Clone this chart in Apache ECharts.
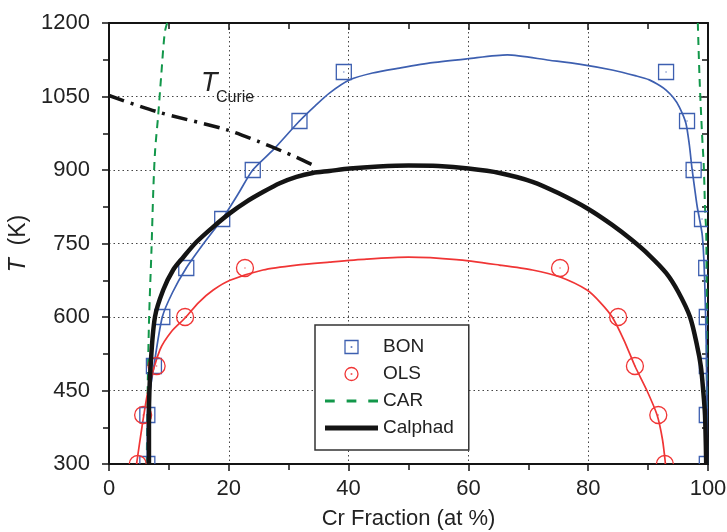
<!DOCTYPE html>
<html><head><meta charset="utf-8">
<script src="https://cdn.jsdelivr.net/npm/echarts@6/dist/echarts.min.js"></script>
<style>html,body{margin:0;padding:0;background:#fff}#c{width:727px;height:532px}</style>
</head><body><div id="c"></div>
<script>
// ---- data ----
const xTicks = [0, 20, 40, 60, 80, 100];
const yTicks = [300, 450, 600, 750, 900, 1050, 1200];
const bonPoints = [[6.4,300],[6.4,400],[7.5,500],[8.9,600],[12.9,700],[18.9,800],[24,900],[31.8,1000],[39.2,1100],
  [93,1100],[96.5,1000],[97.6,900],[99,800],[99.7,700],[99.8,600],[99.8,500],[99.8,400],[99.8,300]];
const olsPoints = [[4.8,300],[5.7,400],[7.95,500],[12.7,600],[22.7,700],[75.3,700],[85,600],[87.8,500],[91.7,400],[92.8,300]];
const bonFit = [[6.4,300],[6.4,400],[7.5,500],[8.9,600],[10.6,650],[12.9,700],[15.8,750],[18.9,800],[21.5,850],[24,900],
  [27.4,941],[31.8,1000],[34.5,1032],[36.8,1057],[40.2,1084],[44,1098],[48.5,1108],[54,1119],[59.8,1127],[66.5,1135],
  [73.5,1124],[78.5,1116],[84,1104],[88,1092],[90.2,1084],[92,1072],[93,1063],[94.2,1048],[95.2,1029],[96.3,996],
  [96.9,950],[97.3,906],[97.8,860],[98.2,825],[99,771],[99.3,720],[99.5,650],[99.7,550],[99.8,450],[99.9,300]];
const olsFit = [[4.6,300],[5.5,375],[6.55,451],[8.5,533],[10.4,570],[12.7,598],[15,630],[17.4,655],[20.2,675],[25.7,696],
  [31.3,706],[36.8,712],[43,718],[50,722],[58,717],[65.2,706],[70.7,696],[75.2,682],[79.8,655],[82,630],[84,600],
  [86,552],[87.8,500],[89.8,450],[91.5,400],[92.4,350],[92.9,300]];
const carLeft = [[6.3,300],[6.45,450],[6.7,600],[7.1,740],[7.4,860],[7.7,940],[8.2,1010],[8.7,1090],[9.3,1180],[9.7,1200]];
const carRight = [[98.3,1200],[98.6,1084],[99,975],[99.3,906],[99.5,824],[99.7,771],[99.75,700],[99.8,500],[99.85,300]];
const calphad = [[6.67,300],[6.67,400],[6.95,500],[7.67,600],[9.05,655],[10.7,696],[12.4,722],[14.6,753],[17.4,784],
  [20.2,812],[22.9,835],[25.7,855],[28.5,873],[31.3,886],[34,894],[36.8,898],[40.2,903],[45,907],[50,909],[55,908],
  [60,903],[65.2,894],[70.7,876],[75,853],[79.8,822],[84,788],[87.3,757],[90.2,726],[93,690],[95,652],[97,600],
  [98.2,540],[98.8,500],[99.2,450],[99.5,400],[99.7,300]];
const tCurie = [[0,1052],[8,1019],[19.7,982],[25,958],[28.8,939],[31.3,926],[34.6,907]];
const legendNames = ['BON', 'OLS', 'CAR', 'Calphad'];

// ---- styles ----
const BLUE = '#3d5fb0', RED = '#f03535', GREEN = '#12974a', BLACK = '#141414', TXT = '#222';
const FONT = 'Liberation Sans';
const SQ = 'path://M0,0H14V14H0Z M6.8,6.8H7.2V7.2H6.8Z';
const CI = 'path://M0,7A7,7 0 1,1 14,7A7,7 0 1,1 0,7Z M6.8,6.8H7.2V7.2H6.8Z';
const DASH_ICON = 'path://M0,0h9v3h-9z M20,0h9v3h-9z M40,0h9v3h-9z';
const THICK_ICON = 'path://M0,0h52v5h-52z';

const axisLine = {show: true, onZero: false, lineStyle: {color: BLACK, width: 2}};
const tickStyle = {color: BLACK, width: 1.5};
const gridLine = {show: true, lineStyle: {color: '#444', width: 1, type: [1.5, 3]}};
const lbl = {fontFamily: FONT, fontSize: 22, color: TXT, formatter: v => String(v)};

function markerSeries(name, data, shape, color, size) {
  return {
    name, type: 'custom', data, clip: true, silent: true, z: 4,
    renderItem: (params, api) => {
      const p = api.coord([api.value(0), api.value(1)]);
      const h = size / 2;
      const outline = shape === 'rect'
        ? {type: 'rect', shape: {x: p[0] - h, y: p[1] - h, width: size, height: size}}
        : {type: 'circle', shape: {cx: p[0], cy: p[1], r: h}};
      outline.style = {fill: 'none', stroke: color, lineWidth: 1.3};
      return {type: 'group', children: [
        outline,
        {type: 'rect', shape: {x: p[0] - 0.6, y: p[1] - 0.6, width: 1.2, height: 1.2}, style: {fill: color}}
      ]};
    }
  };
}

const chart = echarts.init(document.getElementById('c'), null, {renderer: 'canvas'});
chart.setOption({
  animation: false,
  backgroundColor: '#fff',
  grid: {left: 109, right: 19, top: 23, bottom: 68, containLabel: false, outerBoundsMode: 'none'},
  xAxis: [
    {type: 'value', position: 'bottom', min: xTicks[0], max: xTicks[xTicks.length - 1], interval: xTicks[1] - xTicks[0],
      axisLine, axisTick: {show: true, inside: false, length: 7, lineStyle: tickStyle},
      minorTick: {show: true, splitNumber: 2, length: 6, lineStyle: tickStyle},
      axisLabel: Object.assign({margin: 14, showMinLabel: true, showMaxLabel: true}, lbl),
      splitLine: gridLine,
      name: 'Cr Fraction (at %)', nameLocation: 'middle', nameGap: 44,
      nameTextStyle: {fontFamily: FONT, fontSize: 22, color: TXT}},
    {type: 'value', position: 'top', min: xTicks[0], max: xTicks[xTicks.length - 1], interval: xTicks[1] - xTicks[0],
      axisLine, axisTick: {show: true, inside: true, length: 7, lineStyle: tickStyle},
      minorTick: {show: true, splitNumber: 2, length: 6, lineStyle: tickStyle},
      axisLabel: {show: false}, splitLine: {show: false}}
  ],
  yAxis: [
    {type: 'value', position: 'left', min: yTicks[0], max: yTicks[yTicks.length - 1], interval: yTicks[1] - yTicks[0],
      axisLine, axisTick: {show: true, inside: false, length: 7, lineStyle: tickStyle},
      minorTick: {show: true, splitNumber: 2, length: 6, lineStyle: tickStyle},
      axisLabel: Object.assign({margin: 19, showMinLabel: true, showMaxLabel: true}, lbl),
      splitLine: gridLine,
      name: '{t|T}  (K)', nameLocation: 'middle', nameGap: 75,
      nameTextStyle: {fontFamily: FONT, fontSize: 23, color: TXT,
        rich: {t: {fontFamily: FONT, fontSize: 23, fontStyle: 'italic', color: TXT}}}},
    {type: 'value', position: 'right', min: yTicks[0], max: yTicks[yTicks.length - 1], interval: yTicks[1] - yTicks[0],
      axisLine, axisTick: {show: true, inside: true, length: 7, lineStyle: tickStyle},
      minorTick: {show: true, splitNumber: 2, length: 6, lineStyle: tickStyle},
      axisLabel: {show: false}, splitLine: {show: false}}
  ],
  legend: {
    orient: 'vertical', left: 315, top: 325, padding: [12, 15, 12, 10],
    borderColor: '#333', borderWidth: 1.5, backgroundColor: '#fff',
    itemWidth: 53, itemHeight: 13, itemGap: 7, selectedMode: false, symbolKeepAspect: true,
    textStyle: {fontFamily: FONT, fontSize: 19, color: TXT, lineHeight: 20},
    data: [
      {name: legendNames[0], icon: SQ, itemStyle: {color: 'rgba(0,0,0,0)', borderColor: BLUE, borderWidth: 1.3}},
      {name: legendNames[1], icon: CI, itemStyle: {color: 'rgba(0,0,0,0)', borderColor: RED, borderWidth: 1.3}},
      {name: legendNames[2], icon: DASH_ICON, itemStyle: {color: GREEN, borderWidth: 0, borderColor: GREEN}},
      {name: legendNames[3], icon: THICK_ICON, itemStyle: {color: BLACK, borderWidth: 0, borderColor: BLACK}}
    ]
  },
  graphic: [
    {type: 'text', left: 201, top: 70, z: 50, style: {text: 'T', fill: TXT, font: 'italic 27px "Liberation Sans"'}},
    {type: 'text', left: 216, top: 90, z: 50, style: {text: 'Curie', fill: TXT, font: '16px "Liberation Sans"'}}
  ],
  series: [
    {name: 'CAR', type: 'line', data: carLeft, symbol: 'none', smooth: 0.3, silent: true, z: 2,
      lineStyle: {color: GREEN, width: 2, type: [8, 6]}},
    {name: 'CAR', type: 'line', data: carRight, symbol: 'none', smooth: 0.3, silent: true, z: 2,
      lineStyle: {color: GREEN, width: 2, type: [8, 6]}},
    {name: 'BON fit', type: 'line', data: bonFit, symbol: 'none', smooth: 0.25, silent: true, z: 3,
      lineStyle: {color: BLUE, width: 1.7}},
    {name: 'OLS fit', type: 'line', data: olsFit, symbol: 'none', smooth: 0.25, silent: true, z: 3,
      lineStyle: {color: RED, width: 1.7}},
    markerSeries(legendNames[0], bonPoints, 'rect', BLUE, 15),
    markerSeries(legendNames[1], olsPoints, 'circle', RED, 17),
    {name: 'Calphad', type: 'line', data: calphad, symbol: 'none', smooth: 0.3, silent: true, z: 5,
      lineStyle: {color: BLACK, width: 4.5}},
    {name: 'TCurie', type: 'line', data: tCurie, symbol: 'none', smooth: 0.3, silent: true, z: 5,
      lineStyle: {color: BLACK, width: 3.5, type: [16, 7, 3, 7]}}
  ]
});
</script>
</body></html>
